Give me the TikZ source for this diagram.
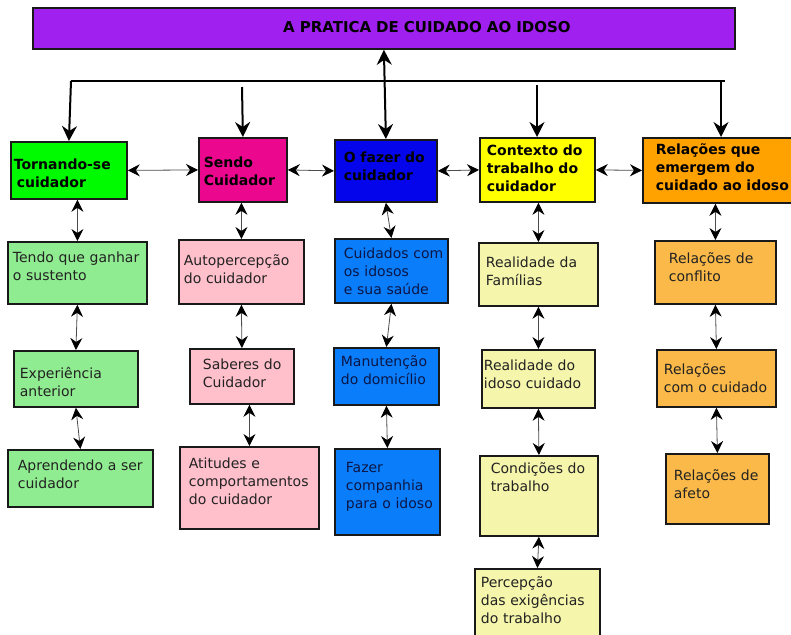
\documentclass[tikz,border=0pt]{standalone}
\usepackage{fontspec}
\setmainfont{DejaVu Sans}
\usetikzlibrary{arrows.meta, calc}
\definecolor{violeta}{RGB}{160, 32, 240}
\definecolor{hgreen}{RGB}{0, 250, 0}
\definecolor{hpink}{RGB}{236, 8, 142}
\definecolor{hblue}{RGB}{5, 5, 235}
\definecolor{hyellow}{RGB}{255, 255, 0}
\definecolor{horange}{RGB}{255, 162, 0}
\definecolor{lgreen}{RGB}{144, 236, 144}
\definecolor{lpink}{RGB}{255, 192, 203}
\definecolor{lblue}{RGB}{10, 125, 250}
\definecolor{lyellow}{RGB}{245, 245, 172}
\definecolor{lorange}{RGB}{250, 185, 72}
\definecolor{inkgray}{RGB}{34, 34, 34}
\definecolor{inknavy}{RGB}{12, 22, 70}
\tikzstyle{box} = [rectangle, draw=black!90, line width=1.8pt, anchor=north west, align=left, inner ysep=0pt, font=\fontsize{14}{18}\selectfont]
\tikzstyle{head} = [box, font=\fontsize{14}{18}\selectfont\bfseries, text=black]
\tikzstyle{sub} = [box, text=inkgray]
\tikzstyle{link} = [<->, >={Stealth[length=12pt,width=12pt,inset=4pt,color=black]}, line width=0.8pt, draw=black!70]
\tikzstyle{feed} = [->, >={Stealth[length=15pt,width=15pt,inset=5pt]}, line width=2pt]
\hyphenpenalty=10000
\exhyphenpenalty=10000

\begin{document}
\begin{tikzpicture}[x=1pt, y=-1pt]
    \useasboundingbox (0,0) rectangle (791,634);

    \node (title) [head, fill=violeta, font=\fontsize{15}{18}\selectfont\bfseries, text width=702pt, inner xsep=0pt, align=center, text height=25pt, text depth=16pt] at (32,7) {\hspace*{86pt}A PRATICA DE CUIDADO AO IDOSO};

    % column heads
    \node (torn) [head, fill=hgreen, text width=110pt, inner xsep=3pt, text height=28pt, text depth=29pt] at (10,141) {Tornando-se\\\hspace*{3pt}cuidador};
    \node (sendo) [head, fill=hpink, text width=78pt, inner xsep=5pt, text height=30pt, text depth=34pt] at (198,137) {Sendo\\Cuidador};
    \node (fazer) [head, fill=hblue, text width=84pt, inner xsep=9pt, text height=23pt, text depth=39pt] at (334,139) {O~fazer~do\\cuidador};
    \node (contexto) [head, fill=hyellow, text width=101pt, inner xsep=7pt, text height=18pt, text depth=46pt] at (479,137) {Contexto~do\\trabalho~do\\cuidador};
    \node (relacoes) [head, fill=horange, text width=144pt, inner xsep=13pt, text height=17pt, text depth=48pt] at (642,137) {Relações~que\\emergem~do\\cuidado~ao~idoso};

    % second row
    \node (tendo) [sub, fill=lgreen, text width=129pt, inner xsep=5pt, text height=21pt, text depth=41pt] at (7,241) {Tendo~que~ganhar\\o~sustento};
    \node (auto) [sub, fill=lpink, text width=115pt, inner xsep=5pt, text height=26pt, text depth=38pt] at (178,239) {Autopercepção\\do~cuidador};
    \node (cuidados) [sub, fill=lblue, text=inknavy, text width=95pt, inner xsep=9pt, text height=20pt, text depth=44pt] at (334,238) {Cuidados~com\\os~idosos\\e~sua~saúde};
    \node (realfam) [sub, fill=lyellow, text width=105pt, inner xsep=7pt, text height=25pt, text depth=38pt] at (478,242) {Realidade~da\\Famílias};
    \node (conflito) [sub, fill=lorange, text width=93pt, inner xsep=14pt, text height=23pt, text depth=40pt] at (654,240) {Relações~de\\conflito};

    % third row
    \node (exper) [sub, fill=lgreen, text width=112pt, inner xsep=6pt, text height=28pt, text depth=28pt] at (13,350) {Experiência\\anterior};
    \node (saberes) [sub, fill=lpink, text width=78pt, inner xsep=13pt, text height=21pt, text depth=34pt] at (189,348) {Saberes~do\\Cuidador};
    \node (manut) [sub, fill=lblue, text=inknavy, text width=91pt, inner xsep=7pt, text height=19pt, text depth=38pt] at (333,347) {Manutenção\\do~domicílio};
    \node (realidoso) [sub, fill=lyellow, text width=109pt, inner xsep=2pt, text height=21pt, text depth=37pt] at (481,349) {Realidade~do\\idoso~cuidado};
    \node (comcuid) [sub, fill=lorange, text width=105pt, inner xsep=7pt, text height=25pt, text depth=32pt] at (656,349) {Relações\\com~o~cuidado};

    % fourth row
    \node (aprend) [sub, fill=lgreen, text width=125pt, inner xsep=10pt, text height=21pt, text depth=36pt] at (7,449) {Aprendendo~a~ser\\cuidador};
    \node (atitudes) [sub, fill=lpink, text width=121pt, inner xsep=9pt, text height=22pt, text depth=60pt] at (179,446) {Atitudes~e\\comportamentos\\do~cuidador};
    \node (companhia) [sub, fill=lblue, text=inknavy, text width=83pt, inner xsep=11pt, text height=24pt, text depth=62pt] at (334,448) {Fazer\\companhia\\para~o~idoso};
    \node (condicoes) [sub, fill=lyellow, text width=96pt, inner xsep=11pt, text height=18pt, text depth=62pt] at (479,455) {Condições~do\\trabalho};
    \node (afeto) [sub, fill=lorange, text width=87pt, inner xsep=8pt, text height=27pt, text depth=43pt] at (665,453) {Relações~de\\afeto};
    \node (percep) [sub, fill=lyellow, text width=113pt, inner xsep=6pt, text height=19pt, text depth=58pt] at (474,568) {Percepção\\das~exigências\\do~trabalho};

    % bus from the title
    \coordinate (busL) at (71,81);
    \coordinate (busR) at (725,81);
    \coordinate (dropS) at (242,87);
    \coordinate (dropC) at (537,85);
    \coordinate (dropR) at (721,81);
    \draw [line width=2pt] (busL) -- (busR);
    \draw [feed] (busL) -- (torn.north);
    \draw [feed] (dropS) -- (sendo.north);
    \draw [feed, <->] (title.south) -- (fazer.north);
    \draw [feed] (dropC) -- (dropC |- contexto.north);
    \draw [feed] (dropR) -- (dropR |- relacoes.north);

    % links between heads
    \draw [link] (torn.east) -- (sendo.west);
    \draw [link] (sendo.east) -- (fazer.west);
    \draw [link] (fazer.east) -- (contexto.west);
    \draw [link] (contexto.east) -- (relacoes.west);

    % links down the columns
    \draw [link] (tendo.north |- torn.south) -- (tendo.north);
    \draw [link] (tendo.south) -- (exper.north);
    \draw [link] (exper.south) -- (aprend.north);
    \draw [link] (auto.north |- sendo.south) -- (auto.north);
    \draw [link] (auto.south) -- (saberes.north);
    \draw [link] (atitudes.north |- saberes.south) -- (atitudes.north);
    \draw [link] (fazer.south) -- (cuidados.north);
    \draw [link] (cuidados.south) -- (manut.north);
    \draw [link] (manut.south) -- (companhia.north);
    \draw [link] (realfam.north |- contexto.south) -- (realfam.north);
    \draw [link] (realfam.south) -- (realidoso.north);
    \draw [link] (realidoso.south) -- (condicoes.north);
    \draw [link] (condicoes.south) -- (percep.north);
    \draw [link] (conflito.north |- relacoes.south) -- (conflito.north);
    \draw [link] (conflito.south) -- (comcuid.north);
    \draw [link] (comcuid.south) -- (afeto.north);
\end{tikzpicture}
\end{document}
